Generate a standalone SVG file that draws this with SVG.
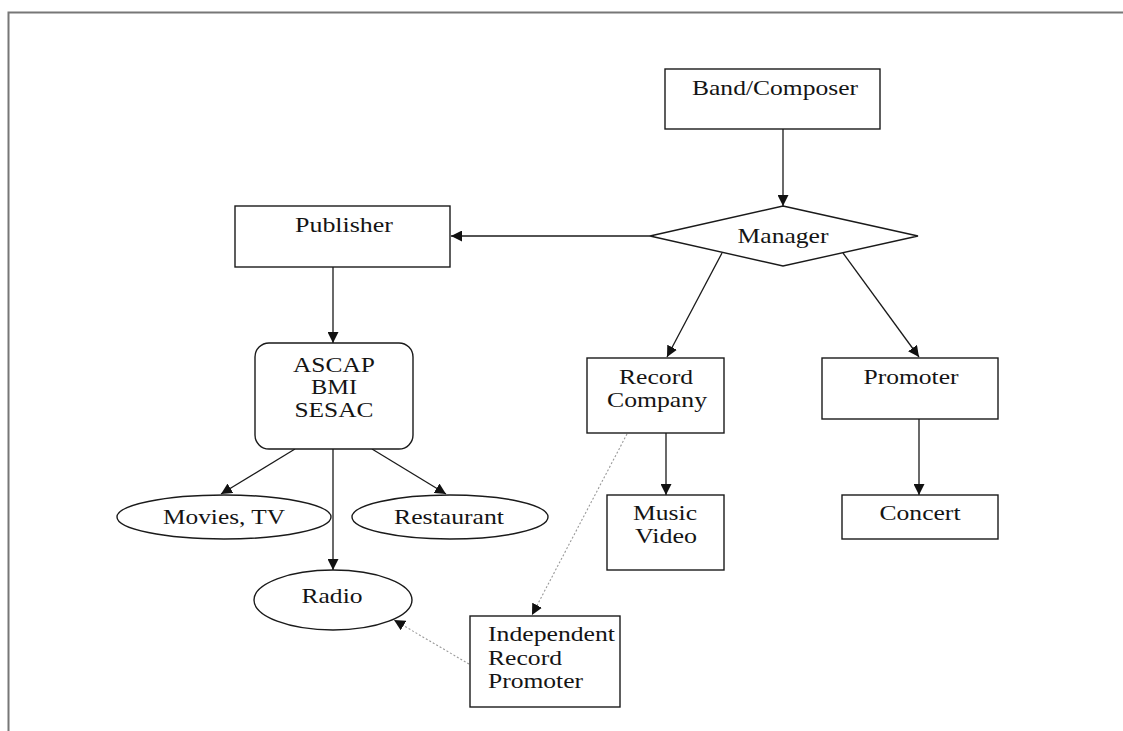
<svg xmlns="http://www.w3.org/2000/svg" width="1123" height="731" viewBox="0 0 1123 731">
<style>
.shape{fill:#fff;stroke:#1a1a1a;stroke-width:1.4}
.t{font-family:"Liberation Serif","Times New Roman",serif;font-size:21px;fill:#141414;text-anchor:middle}
.tl{font-family:"Liberation Serif","Times New Roman",serif;font-size:21px;fill:#141414;text-anchor:start}
.c{stroke:#1a1a1a;stroke-width:1.3;fill:none;marker-end:url(#ah)}
.d{stroke:#999;stroke-width:1.1;stroke-dasharray:2 2;fill:none;marker-end:url(#ah)}
</style>
<defs>
<marker id="ah" viewBox="0 0 10 10" refX="10" refY="5" markerWidth="11" markerHeight="11" markerUnits="userSpaceOnUse" orient="auto">
<path d="M0,0 L10,5 L0,10 z" fill="#111"/>
</marker>
</defs>
<rect width="1123" height="731" fill="#fff"/>
<path d="M8.5,731 V12.5 H1123" fill="none" stroke="#777" stroke-width="2"/>
<g id="connectors">
<line class="c" x1="783" y1="129" x2="783" y2="206"/>
<line class="c" x1="650" y1="236" x2="451" y2="236"/>
<line class="c" x1="333" y1="267" x2="333" y2="343"/>
<line class="c" x1="722" y1="253" x2="667" y2="357"/>
<line class="c" x1="843" y1="253" x2="919" y2="357"/>
<line class="c" x1="666" y1="433" x2="666" y2="495"/>
<line class="c" x1="919" y1="419" x2="919" y2="495" stroke-width="2"/>
<line class="c" x1="295" y1="449" x2="221" y2="494"/>
<line class="c" x1="333" y1="449" x2="333" y2="570"/>
<line class="c" x1="372" y1="449" x2="446" y2="494"/>
<line class="d" x1="627" y1="434" x2="532" y2="615"/>
<line class="d" x1="469" y1="664" x2="394" y2="620"/>
</g>
<g id="band">
<rect class="shape" x="665" y="69" width="215" height="60"/>
<text class="t" x="775" y="95" textLength="166" lengthAdjust="spacingAndGlyphs">Band/Composer</text>
</g>
<g id="manager">
<polygon class="shape" points="783,206 918,236 783,266 650,236"/>
<text class="t" x="783" y="243" textLength="91" lengthAdjust="spacingAndGlyphs">Manager</text>
</g>
<g id="publisher">
<rect class="shape" x="235" y="206" width="215" height="61"/>
<text class="t" x="344" y="232" textLength="98" lengthAdjust="spacingAndGlyphs">Publisher</text>
</g>
<g id="ascap">
<rect class="shape" x="255" y="343" width="158" height="106" rx="14" ry="14"/>
<text class="t" x="334" y="372" textLength="82" lengthAdjust="spacingAndGlyphs">ASCAP</text>
<text class="t" x="334" y="394" textLength="46" lengthAdjust="spacingAndGlyphs">BMI</text>
<text class="t" x="334" y="417" textLength="79" lengthAdjust="spacingAndGlyphs">SESAC</text>
</g>
<g id="movies">
<ellipse class="shape" cx="224" cy="517" rx="107" ry="22"/>
<text class="t" x="224" y="524" textLength="122" lengthAdjust="spacingAndGlyphs">Movies, TV</text>
</g>
<g id="restaurant">
<ellipse class="shape" cx="450" cy="517" rx="98" ry="22"/>
<text class="t" x="449" y="524" textLength="110" lengthAdjust="spacingAndGlyphs">Restaurant</text>
</g>
<g id="radio">
<ellipse class="shape" cx="333" cy="600" rx="79" ry="30"/>
<text class="t" x="332" y="603" textLength="61" lengthAdjust="spacingAndGlyphs">Radio</text>
</g>
<g id="record">
<rect class="shape" x="587" y="358" width="137" height="75"/>
<text class="t" x="656" y="384" textLength="74" lengthAdjust="spacingAndGlyphs">Record</text>
<text class="t" x="657" y="407" textLength="100" lengthAdjust="spacingAndGlyphs">Company</text>
</g>
<g id="musicvideo">
<rect class="shape" x="607" y="495" width="117" height="75"/>
<text class="t" x="665" y="520" textLength="64" lengthAdjust="spacingAndGlyphs">Music</text>
<text class="t" x="666" y="543" textLength="62" lengthAdjust="spacingAndGlyphs">Video</text>
</g>
<g id="promoter">
<rect class="shape" x="822" y="358" width="176" height="61"/>
<text class="t" x="911" y="384" textLength="95" lengthAdjust="spacingAndGlyphs">Promoter</text>
</g>
<g id="concert">
<rect class="shape" x="842" y="495" width="156" height="44"/>
<text class="t" x="920" y="520" textLength="81" lengthAdjust="spacingAndGlyphs">Concert</text>
</g>
<g id="irp">
<rect class="shape" x="470" y="616" width="150" height="91"/>
<text class="tl" x="488" y="641" textLength="127" lengthAdjust="spacingAndGlyphs">Independent</text>
<text class="tl" x="488" y="665" textLength="74" lengthAdjust="spacingAndGlyphs">Record</text>
<text class="tl" x="488" y="688" textLength="95" lengthAdjust="spacingAndGlyphs">Promoter</text>
</g>
</svg>
